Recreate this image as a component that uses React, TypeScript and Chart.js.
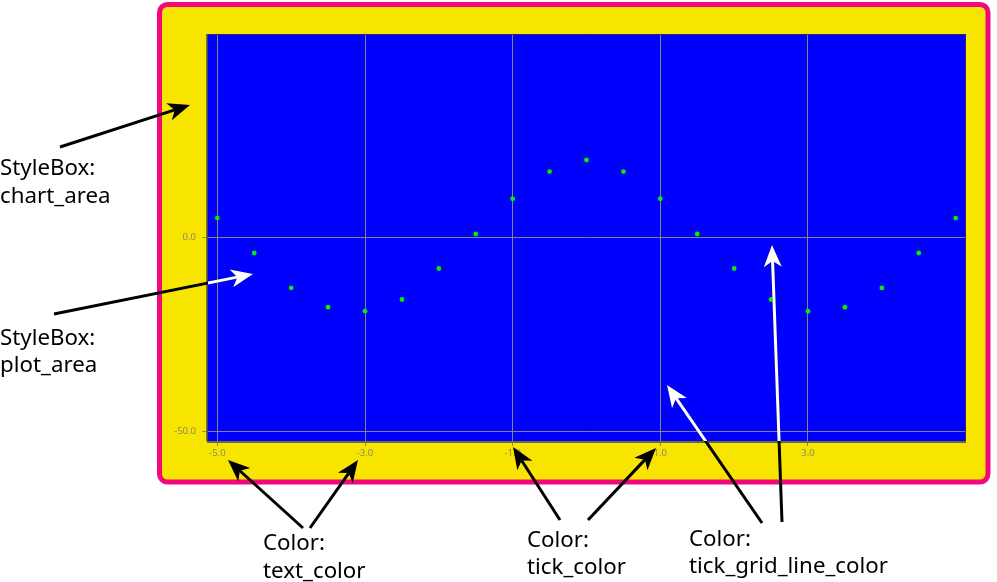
import React, { useEffect, useRef } from "react";
import { Chart, registerables } from "chart.js";

Chart.register(...registerables);

const xValues = [-5, -4.5, -4, -3.5, -3, -2.5, -2, -1.5, -1, -0.5, 0, 0.5, 1, 1.5, 2, 2.5, 3, 3.5, 4, 4.5, 5];
const yValues = [5.0, -4.0, -13.0, -18.0, -19.0, -16.0, -8.0, 0.9, 10.0, 17.0, 20.0, 17.0, 10.0, 0.9, -8.0, -16.0, -19.0, -18.0, -13.0, -4.0, 5.0];
const xTicks = [-5, -3, -1, 1, 3];
const yTicks = [-50, 0];

const YELLOW = "#f7e500";
const PINK = "#f2077e";
const BLUE = "#0000ff";
const GRID = "#858585";
const TEXT = "#8a8a66";

function roundRect(ctx: CanvasRenderingContext2D, x: number, y: number, w: number, h: number, r: number) {
  ctx.beginPath();
  ctx.moveTo(x + r, y);
  ctx.lineTo(x + w - r, y);
  ctx.arcTo(x + w, y, x + w, y + r, r);
  ctx.lineTo(x + w, y + h - r);
  ctx.arcTo(x + w, y + h, x + w - r, y + h, r);
  ctx.lineTo(x + r, y + h);
  ctx.arcTo(x, y + h, x, y + h - r, r);
  ctx.lineTo(x, y + r);
  ctx.arcTo(x, y, x + r, y, r);
  ctx.closePath();
}

function arrow(ctx: CanvasRenderingContext2D, x1: number, y1: number, x2: number, y2: number, color: string) {
  const ang = Math.atan2(y2 - y1, x2 - x1);
  const len = 22, half = 9, notch = 6;
  const bx = x2 - Math.cos(ang) * len;
  const by = y2 - Math.sin(ang) * len;
  const nx = x2 - Math.cos(ang) * (len - notch);
  const ny = y2 - Math.sin(ang) * (len - notch);
  const px = -Math.sin(ang), py = Math.cos(ang);
  ctx.strokeStyle = color;
  ctx.fillStyle = color;
  ctx.lineWidth = 3;
  ctx.beginPath();
  ctx.moveTo(x1, y1);
  ctx.lineTo(nx, ny);
  ctx.stroke();
  ctx.beginPath();
  ctx.moveTo(x2, y2);
  ctx.lineTo(bx + px * half, by + py * half);
  ctx.lineTo(nx, ny);
  ctx.lineTo(bx - px * half, by - py * half);
  ctx.closePath();
  ctx.fill();
}

const backgroundPlugin = {
  id: "bgBoxes",
  beforeDraw(chart: any) {
    const ctx = chart.ctx as CanvasRenderingContext2D;
    const a = chart.chartArea;
    ctx.save();
    roundRect(ctx, 159.5, 4.5, 828.5, 477.5, 8);
    ctx.fillStyle = YELLOW;
    ctx.fill();
    ctx.lineWidth = 5;
    ctx.strokeStyle = PINK;
    ctx.stroke();
    ctx.fillStyle = BLUE;
    ctx.fillRect(a.left, a.top, a.right - a.left, a.bottom - a.top);
    ctx.restore();
  },
  afterDatasetsDraw(chart: any) {
    const ctx = chart.ctx as CanvasRenderingContext2D;
    const a = chart.chartArea;
    ctx.save();
    ctx.strokeStyle = "#2c2c55";
    ctx.lineWidth = 1;
    ctx.beginPath();
    ctx.moveTo(a.left, a.top + 0.5);
    ctx.lineTo(a.right - 0.5, a.top + 0.5);
    ctx.lineTo(a.right - 0.5, a.bottom);
    ctx.stroke();
    ctx.strokeStyle = "#55552e";
    ctx.lineWidth = 1.5;
    ctx.beginPath();
    ctx.moveTo(a.left, a.top);
    ctx.lineTo(a.left, a.bottom);
    ctx.stroke();
    ctx.strokeStyle = "#6a6a3c";
    ctx.lineWidth = 2;
    ctx.beginPath();
    ctx.moveTo(a.left, a.bottom + 1);
    ctx.lineTo(a.right, a.bottom + 1);
    ctx.stroke();
    ctx.restore();
  },
};

const annotationPlugin = {
  id: "annotations",
  afterDraw(chart: any) {
    const ctx = chart.ctx as CanvasRenderingContext2D;
    const a = chart.chartArea;
    ctx.save();
    ctx.fillStyle = "#000000";
    ctx.font = '22.3px "Noto Sans"';
    ctx.textAlign = "left";
    ctx.textBaseline = "alphabetic";
    const labels: [string, number, number][] = [
      ["StyleBox:", 0, 175],
      ["chart_area", 0, 203],
      ["StyleBox:", 0, 345],
      ["plot_area", 0, 372],
      ["Color:", 263, 550],
      ["text_color", 263, 578],
      ["Color:", 527, 547],
      ["tick_color", 527, 574],
      ["Color:", 689, 546],
      ["tick_grid_line_color", 689, 573],
    ];
    labels.forEach(([t, x, y]) => ctx.fillText(t, x, y));

    const arrows: [number, number, number, number][] = [
      [60, 147, 190, 105],
      [54, 314, 253, 274],
      [303, 528, 228, 460],
      [310, 528, 358, 460],
      [560, 520, 513, 447],
      [588, 520, 656, 448],
      [762, 523, 667, 385],
      [782, 522, 772, 245],
    ];
    arrows.forEach(([x1, y1, x2, y2]) => arrow(ctx, x1, y1, x2, y2, "#000000"));
    ctx.save();
    ctx.beginPath();
    ctx.rect(a.left + 1, a.top, a.right - a.left, a.bottom - a.top);
    ctx.clip();
    arrows.forEach(([x1, y1, x2, y2]) => arrow(ctx, x1, y1, x2, y2, "#ffffff"));
    ctx.restore();
    ctx.restore();
  },
};

export default function App() {
  const ref = useRef<HTMLCanvasElement | null>(null);
  useEffect(() => {
    if (!ref.current) return;
    const points = xValues.map((x, i) => ({ x, y: yValues[i] }));
    const chart = new Chart(ref.current, {
      type: "scatter",
      data: {
        datasets: [
          {
            data: points,
            backgroundColor: "#00f000",
            borderColor: "#00f000",
            pointRadius: 2.4,
            borderWidth: 0,
          },
        ],
      },
      options: {
        animation: false,
        responsive: false,
        maintainAspectRatio: false,
        devicePixelRatio: 1,
        layout: { padding: { left: 0, top: 34, right: 31, bottom: 0 } },
        plugins: { legend: { display: false }, tooltip: { enabled: false } },
        scales: {
          x: {
            type: "linear",
            min: -5.14,
            max: 5.14,
            afterBuildTicks: (s: any) => {
              s.ticks = xTicks.map((v) => ({ value: v }));
            },
            afterFit: (s: any) => {
              s.height = 141;
            },
            border: { display: false },
            grid: { color: GRID, lineWidth: 1, tickLength: 5, drawTicks: true, tickColor: "#8a8a5a" },
            ticks: {
              color: TEXT,
              font: { family: "Noto Sans", size: 9.5 },
              padding: 2,
              maxRotation: 0,
              autoSkip: false,
              callback: (v: any) => Number(v).toFixed(1),
            },
          },
          y: {
            type: "linear",
            min: -52.5,
            max: 52.5,
            afterBuildTicks: (s: any) => {
              s.ticks = yTicks.map((v) => ({ value: v }));
            },
            afterFit: (s: any) => {
              s.width = 207;
            },
            border: { display: false },
            grid: { color: GRID, lineWidth: 1, tickLength: 5, drawTicks: true, tickColor: "#8a8a5a" },
            ticks: {
              color: TEXT,
              font: { family: "Noto Sans", size: 9.5 },
              padding: 6,
              autoSkip: false,
              callback: (v: any) => Number(v).toFixed(1),
            },
          },
        },
      },
      plugins: [backgroundPlugin, annotationPlugin],
    });
    return () => chart.destroy();
  }, []);
  return (
    <div style={{ position: "absolute", left: 0, top: 0, width: 997, height: 582 }}>
      <canvas ref={ref} width={997} height={582} style={{ display: "block" }} />
    </div>
  );
}
